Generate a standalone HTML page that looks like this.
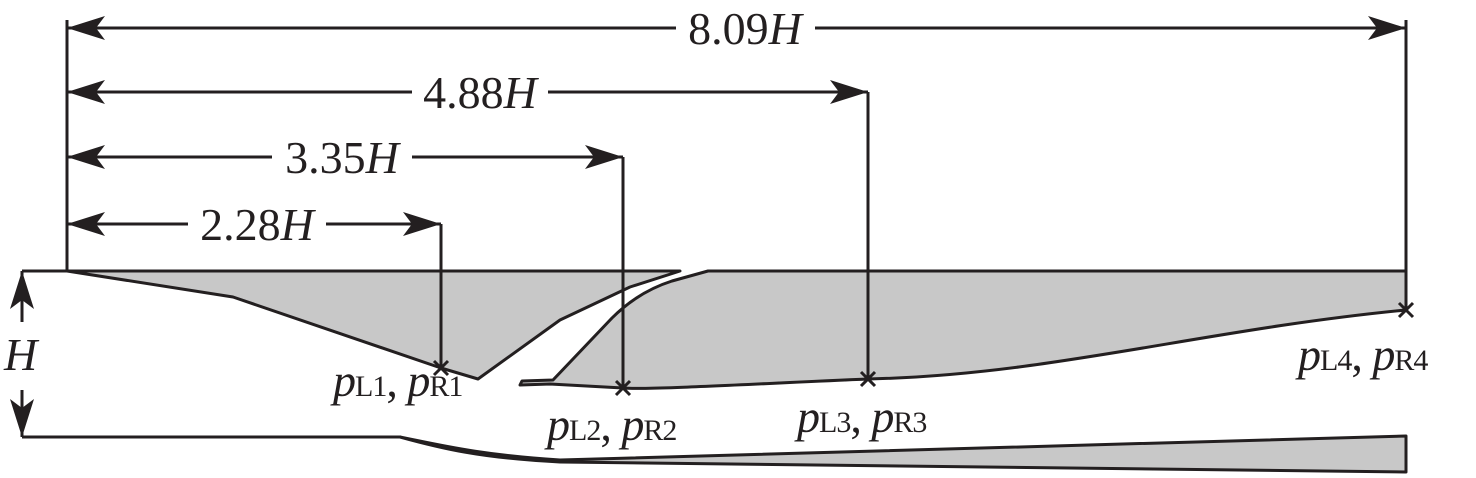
<!DOCTYPE html>
<html><head><style>body{margin:0;background:#fff}svg{display:block}text{font-family:"Liberation Serif","Times New Roman","DejaVu Serif",serif;fill:#231f20}</style></head><body>
<svg width="1476" height="478" viewBox="0 0 1476 478" xmlns="http://www.w3.org/2000/svg" font-family="Liberation Serif, serif">
<defs>
<marker id="b" markerWidth="40" markerHeight="24" refX="38" refY="12" orient="auto-start-reverse" markerUnits="userSpaceOnUse"><path d="M0,0 L38,12 L0,24 L9,12Z" fill="#231f20"/></marker></defs>
<g fill="#c8c8c8" stroke="#231f20" stroke-width="3" stroke-linejoin="round">
<path d="M67,271 L233,297 L441,368 L478,379 L560,320 L630,287 L680,271 Z"/>
<path d="M708,271 L1406,271 L1406,310 C1200,330 1050,375 868,379 C750,384 650,390 623,388 L550,384 L520,385 L522,381 L553,380 L612,318 C630,300 650,288 672,281 Z"/>
<path d="M400,437 C440,445 480,455 560,460 L1406,436 L1406,472 L560,462 C480,458 440,448 400,437 Z"/>
</g>
<g stroke="#231f20" stroke-width="3" fill="none">
<line x1="22" y1="271" x2="680" y2="271"/>
<line x1="22" y1="437" x2="400" y2="437"/>
<line x1="67" y1="20" x2="67" y2="271"/>
<line x1="1406" y1="20" x2="1406" y2="310"/>
<line x1="441" y1="224" x2="441" y2="368"/>
<line x1="623" y1="157" x2="623" y2="388"/>
<line x1="868" y1="92" x2="868" y2="379"/>
<line x1="67" y1="28" x2="676" y2="28" marker-start="url(#b)"/><line x1="815" y1="28" x2="1406" y2="28" marker-end="url(#b)"/>
<line x1="67" y1="92" x2="412" y2="92" marker-start="url(#b)"/><line x1="548" y1="92" x2="868" y2="92" marker-end="url(#b)"/>
<line x1="67" y1="157" x2="272" y2="157" marker-start="url(#b)"/><line x1="412" y1="157" x2="623" y2="157" marker-end="url(#b)"/>
<line x1="67" y1="224" x2="188" y2="224" marker-start="url(#b)"/><line x1="326" y1="224" x2="441" y2="224" marker-end="url(#b)"/>
<line x1="22" y1="322" x2="22" y2="271" marker-end="url(#b)"/>
<line x1="22" y1="390" x2="22" y2="437" marker-end="url(#b)"/>
<path d="M434,361 l14,14 M448,361 l-14,14 M616,381 l14,14 M630,381 l-14,14 M861,372 l14,14 M875,372 l-14,14 M1399,303 l14,14 M1413,303 l-14,14"/>
</g>
<g font-size="46">
<text x="745" y="44" text-anchor="middle">8.09<tspan font-style="italic">H</tspan></text>
<text x="480" y="108" text-anchor="middle">4.88<tspan font-style="italic">H</tspan></text>
<text x="342" y="173" text-anchor="middle">3.35<tspan font-style="italic">H</tspan></text>
<text x="257" y="240" text-anchor="middle">2.28<tspan font-style="italic">H</tspan></text>
<text x="4" y="370" font-style="italic">H</text>
<text x="333" y="396" letter-spacing="-1"><tspan font-style="italic">p</tspan><tspan font-size="30" dy="0">L1</tspan>, <tspan font-style="italic">p</tspan><tspan font-size="30">R1</tspan></text>
<text x="547" y="440" letter-spacing="-1"><tspan font-style="italic">p</tspan><tspan font-size="30">L2</tspan>, <tspan font-style="italic">p</tspan><tspan font-size="30">R2</tspan></text>
<text x="797" y="432" letter-spacing="-1"><tspan font-style="italic">p</tspan><tspan font-size="30">L3</tspan>, <tspan font-style="italic">p</tspan><tspan font-size="30">R3</tspan></text>
<text x="1298" y="370" letter-spacing="-1"><tspan font-style="italic">p</tspan><tspan font-size="30">L4</tspan>, <tspan font-style="italic">p</tspan><tspan font-size="30">R4</tspan></text>
</g>
</svg>
</body></html>
